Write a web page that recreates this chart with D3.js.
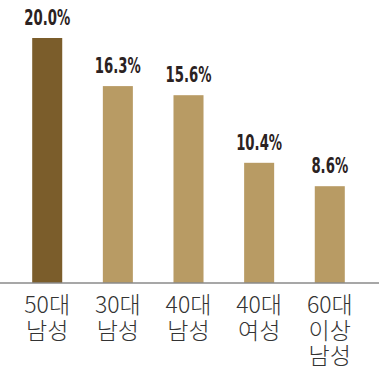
<!DOCTYPE html>
<html>
<head>
<meta charset="utf-8">
<script src="https://cdn.jsdelivr.net/npm/d3@7"></script>
<style>
  body { margin: 0; background: #fff; }
  .value { font-family: "DejaVu Sans Condensed", "DejaVu Sans", sans-serif; font-weight: bold; font-size: 22px; fill: #2b2222; text-anchor: middle; }
  .cat { font-family: "Noto Sans CJK KR", "Noto Sans", sans-serif; font-weight: 300; font-size: 23px; fill: #333; text-anchor: middle; }
</style>
</head>
<body>
<div class="graphic"></div>
<script>
const categories = ["50대\n남성", "30대\n남성", "40대\n남성", "40대\n여성", "60대\n이상\n남성"]
const values = [20.0, 16.3, 15.6, 10.4, 8.6]
const labels = ["20.0%", "16.3%", "15.6%", "10.4%", "8.6%"]

const width = 379
const height = 368
const baseline = 283

const svg = d3.select('.graphic').append('svg')
    .attr('width', width)
    .attr('height', height)

const x = d3.scaleBand()
    .domain(categories)
    .range([-1, 378])
    .paddingInner(0.575)
    .paddingOuter(0.47)

// zero sits a little under the axis line, as in the original
const y = d3.scaleLinear()
    .domain([0, 20])
    .range([298, 38])

svg.selectAll('rect.bar')
    .data(values)
    .enter()
    .append('rect')
    .attr('class', 'bar')
    .attr('x', (d, i) => x(categories[i]))
    .attr('y', d => y(d))
    .attr('width', x.bandwidth())
    .attr('height', d => baseline - y(d))
    .attr('fill', (d, i) => i == 0 ? "#7b5d2b" : "#b89b64")

// squeeze the bold figures so they look like the narrow face in the original
svg.selectAll('text.value')
    .data(values)
    .enter()
    .append('text')
    .attr('class', 'value')
    .attr('transform', (d, i) => "translate(" + (x(categories[i]) + x.bandwidth() / 2) + "," + (y(d) - 13) + ") scale(0.67,1)")
    .text((d, i) => labels[i])

svg.append('line')
    .attr('x1', 0)
    .attr('x2', width)
    .attr('y1', baseline)
    .attr('y2', baseline)
    .attr('stroke', '#8a8a8a')
    .attr('stroke-width', 1.3)

categories.forEach(function(c) {
    const t = svg.append('text')
        .attr('class', 'cat')
        .attr('x', x(c) + x.bandwidth() / 2)
        .attr('y', 313)
    c.split("\n").forEach(function(line, j) {
        t.append('tspan')
            .attr('x', x(c) + x.bandwidth() / 2)
            .attr('dy', j == 0 ? 0 : 25.5)
            .text(line)
    })
})
</script>
</body>
</html>
